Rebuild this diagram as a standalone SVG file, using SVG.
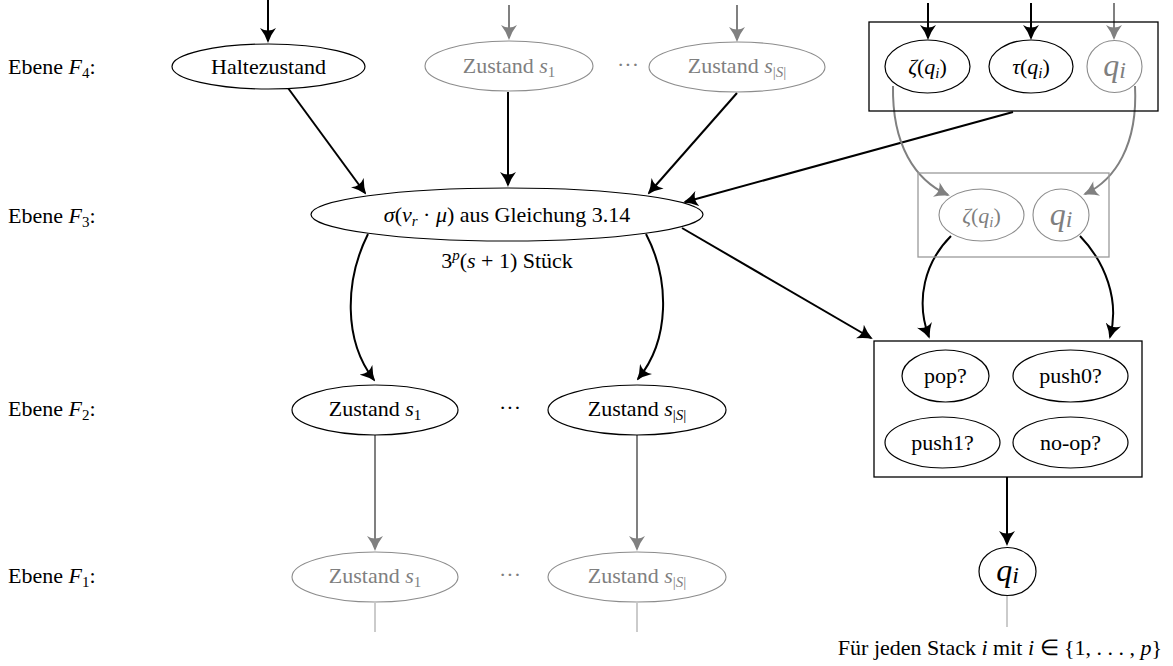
<svg xmlns="http://www.w3.org/2000/svg" width="1173" height="666" viewBox="0 0 1173 666">
<style>
text{font-family:"Liberation Serif","Times New Roman",serif;font-size:22px;fill:#000;text-anchor:middle}
.lab{text-anchor:start}
.g{fill:#7f7f7f}
.it{font-style:italic}
.sb{font-size:15px}
.big{font-size:32px}
.nb{fill:#fff;stroke:#000;stroke-width:1.2}
.ng{fill:#fff;stroke:#8c8c8c;stroke-width:1.1}
.ek{fill:none;stroke:#000;stroke-width:2}
.eg{fill:none;stroke:#808080;stroke-width:2}
.et{fill:none;stroke:#a0a0a0;stroke-width:1.1}
.box{fill:none;stroke:#000;stroke-width:1.3}
.boxg{fill:none;stroke:#9a9a9a;stroke-width:1.3}
</style>
<defs>
<marker id="ak" viewBox="0 0 15 16" refX="13" refY="8" markerWidth="15" markerHeight="16" markerUnits="userSpaceOnUse" orient="auto">
<path d="M15,8 Q7,5.5 0,0 Q5,8 0,16 Q7,10.5 15,8 Z" fill="#000"/>
</marker>
<marker id="ag" viewBox="0 0 15 16" refX="13" refY="8" markerWidth="15" markerHeight="16" markerUnits="userSpaceOnUse" orient="auto">
<path d="M15,8 Q7,5.5 0,0 Q5,8 0,16 Q7,10.5 15,8 Z" fill="#808080"/>
</marker>
</defs>

<g id="labels">
<text class="lab" x="8" y="74">Ebene <tspan class="it">F</tspan><tspan class="sb" dy="4">4</tspan><tspan dy="-4">:</tspan></text>
<text class="lab" x="8" y="223">Ebene <tspan class="it">F</tspan><tspan class="sb" dy="4">3</tspan><tspan dy="-4">:</tspan></text>
<text class="lab" x="8" y="416">Ebene <tspan class="it">F</tspan><tspan class="sb" dy="4">2</tspan><tspan dy="-4">:</tspan></text>
<text class="lab" x="8" y="583">Ebene <tspan class="it">F</tspan><tspan class="sb" dy="4">1</tspan><tspan dy="-4">:</tspan></text>
</g>

<g id="connectors">
<line class="ek" x1="268" y1="0" x2="268" y2="41" marker-end="url(#ak)"/>
<line class="eg" x1="509" y1="5" x2="509" y2="38" marker-end="url(#ag)"/>
<line class="eg" x1="737" y1="5" x2="737" y2="40" marker-end="url(#ag)"/>
<line class="ek" x1="928" y1="3" x2="928" y2="38" marker-end="url(#ak)"/>
<line class="ek" x1="1031" y1="3" x2="1031" y2="38" marker-end="url(#ak)"/>
<line class="eg" x1="1114" y1="3" x2="1114" y2="38" marker-end="url(#ag)"/>
<line class="ek" x1="288" y1="88" x2="365" y2="193" marker-end="url(#ak)"/>
<line class="ek" x1="508" y1="92" x2="508" y2="185" marker-end="url(#ak)"/>
<line class="ek" x1="737" y1="93" x2="649" y2="193" marker-end="url(#ak)"/>
<line class="ek" x1="1013" y1="112" x2="685" y2="202" marker-end="url(#ak)"/>
<path class="eg" d="M893,86 C892,145 915,180 948,195" marker-end="url(#ag)"/>
<path class="eg" d="M1135,86 C1138,145 1115,180 1085,194" marker-end="url(#ag)"/>
<line class="ek" x1="682" y1="228" x2="871" y2="338" marker-end="url(#ak)"/>
<path class="ek" d="M368,234 C345,280 343,340 374,380" marker-end="url(#ak)"/>
<path class="ek" d="M646,234 C670,280 670,340 638,379" marker-end="url(#ak)"/>
<path class="ek" d="M951,236 C925,262 915,300 929,337" marker-end="url(#ak)"/>
<path class="ek" d="M1080,236 C1105,262 1120,300 1110,337" marker-end="url(#ak)"/>
<line class="ek" x1="1007" y1="477" x2="1007" y2="544" marker-end="url(#ak)"/>
<line class="eg" x1="375" y1="435" x2="375" y2="549" marker-end="url(#ag)"/>
<line class="eg" x1="637" y1="435" x2="637" y2="549" marker-end="url(#ag)"/>
<line class="et" x1="375" y1="603" x2="375" y2="632"/>
<line class="et" x1="637" y1="603" x2="637" y2="632"/>
<line class="et" x1="1007" y1="596" x2="1007" y2="627"/>
</g>

<g id="haltezustand">
<ellipse class="nb" cx="268.5" cy="66.5" rx="96.5" ry="22.5"/>
<text x="268.5" y="74">Haltezustand</text>
</g>
<g id="f4-s1">
<ellipse class="ng" cx="509" cy="66" rx="84" ry="25"/>
<text class="g" x="509" y="73">Zustand <tspan class="it">s</tspan><tspan class="sb" dy="4">1</tspan></text>
</g>
<text class="g" x="628" y="72">···</text>
<g id="f4-sS">
<ellipse class="ng" cx="737" cy="67" rx="88" ry="25"/>
<text class="g" x="737" y="73">Zustand <tspan class="it">s</tspan><tspan class="sb" dy="4">|<tspan class="it">S</tspan>|</tspan></text>
</g>

<g id="stack-f4">
<rect class="box" x="869" y="22" width="289" height="89"/>
<g id="f4-zeta">
<ellipse class="nb" cx="927.5" cy="66.5" rx="42.5" ry="26.5"/>
<text x="927.5" y="74"><tspan class="it">ζ</tspan>(<tspan class="it">q</tspan><tspan class="sb it" dy="4">i</tspan><tspan dy="-4">)</tspan></text>
</g>
<g id="f4-tau">
<ellipse class="nb" cx="1031" cy="66.5" rx="42" ry="26.5"/>
<text x="1031" y="74"><tspan class="it">τ</tspan>(<tspan class="it">q</tspan><tspan class="sb it" dy="4">i</tspan><tspan dy="-4">)</tspan></text>
</g>
<g id="f4-q">
<ellipse class="ng" cx="1114.5" cy="66.5" rx="27.5" ry="26"/>
<text class="g big" x="1114.5" y="76"><tspan class="it">q</tspan><tspan class="it" font-size="24" dy="2">i</tspan></text>
</g>
</g>

<g id="sigma">
<ellipse class="nb" cx="507" cy="214.5" rx="196" ry="26.5"/>
<text x="507" y="222"><tspan class="it">σ</tspan>(<tspan class="it">v</tspan><tspan class="sb it" dy="4">r</tspan><tspan dy="-4"> · </tspan><tspan class="it">μ</tspan>) aus Gleichung 3.14</text>
<text x="507" y="268">3<tspan class="sb it" dy="-8">p</tspan><tspan dy="8">(</tspan><tspan class="it">s</tspan> + 1) Stück</text>
</g>

<g id="stack-f3">
<rect class="boxg" x="918" y="173" width="191" height="84"/>
<g id="f3-zeta">
<ellipse class="ng" cx="981.5" cy="215" rx="42.5" ry="26"/>
<text class="g" x="981.5" y="223"><tspan class="it">ζ</tspan>(<tspan class="it">q</tspan><tspan class="sb it" dy="4">i</tspan><tspan dy="-4">)</tspan></text>
</g>
<g id="f3-q">
<ellipse class="ng" cx="1061" cy="215" rx="28" ry="26"/>
<text class="g big" x="1061" y="225"><tspan class="it">q</tspan><tspan class="it" font-size="24" dy="2">i</tspan></text>
</g>
</g>

<g id="ops">
<rect class="box" x="874" y="341" width="268" height="136"/>
<g id="pop"><ellipse class="nb" cx="945.5" cy="376" rx="43.5" ry="26"/><text x="945.5" y="383">pop?</text></g>
<g id="push0"><ellipse class="nb" cx="1070.5" cy="376" rx="57.5" ry="26"/><text x="1070.5" y="383">push0?</text></g>
<g id="push1"><ellipse class="nb" cx="942.5" cy="442.5" rx="57.5" ry="25.5"/><text x="942.5" y="450">push1?</text></g>
<g id="noop"><ellipse class="nb" cx="1070.5" cy="442.5" rx="57.5" ry="25.5"/><text x="1070.5" y="450">no-op?</text></g>
</g>

<g id="f2-s1">
<ellipse class="nb" cx="375" cy="410" rx="83" ry="25"/>
<text x="375" y="416">Zustand <tspan class="it">s</tspan><tspan class="sb" dy="4">1</tspan></text>
</g>
<text x="510" y="415">···</text>
<g id="f2-sS">
<ellipse class="nb" cx="637" cy="410" rx="89" ry="25"/>
<text x="637" y="416">Zustand <tspan class="it">s</tspan><tspan class="sb" dy="4">|<tspan class="it">S</tspan>|</tspan></text>
</g>

<g id="f1-s1">
<ellipse class="ng" cx="375" cy="577" rx="83" ry="25"/>
<text class="g" x="375" y="583">Zustand <tspan class="it">s</tspan><tspan class="sb" dy="4">1</tspan></text>
</g>
<text class="g" x="510" y="582">···</text>
<g id="f1-sS">
<ellipse class="ng" cx="637" cy="577" rx="89" ry="25"/>
<text class="g" x="637" y="583">Zustand <tspan class="it">s</tspan><tspan class="sb" dy="4">|<tspan class="it">S</tspan>|</tspan></text>
</g>

<g id="q-out">
<ellipse class="nb" cx="1007.5" cy="571.5" rx="28.5" ry="24"/>
<text class="big" x="1007.5" y="581"><tspan class="it">q</tspan><tspan class="it" font-size="24" dy="2">i</tspan></text>
</g>
<text x="1000" y="655">Für jeden Stack <tspan class="it">i</tspan> mit <tspan class="it">i</tspan> ∈ {1, . . . , <tspan class="it">p</tspan>}</text>
</svg>
